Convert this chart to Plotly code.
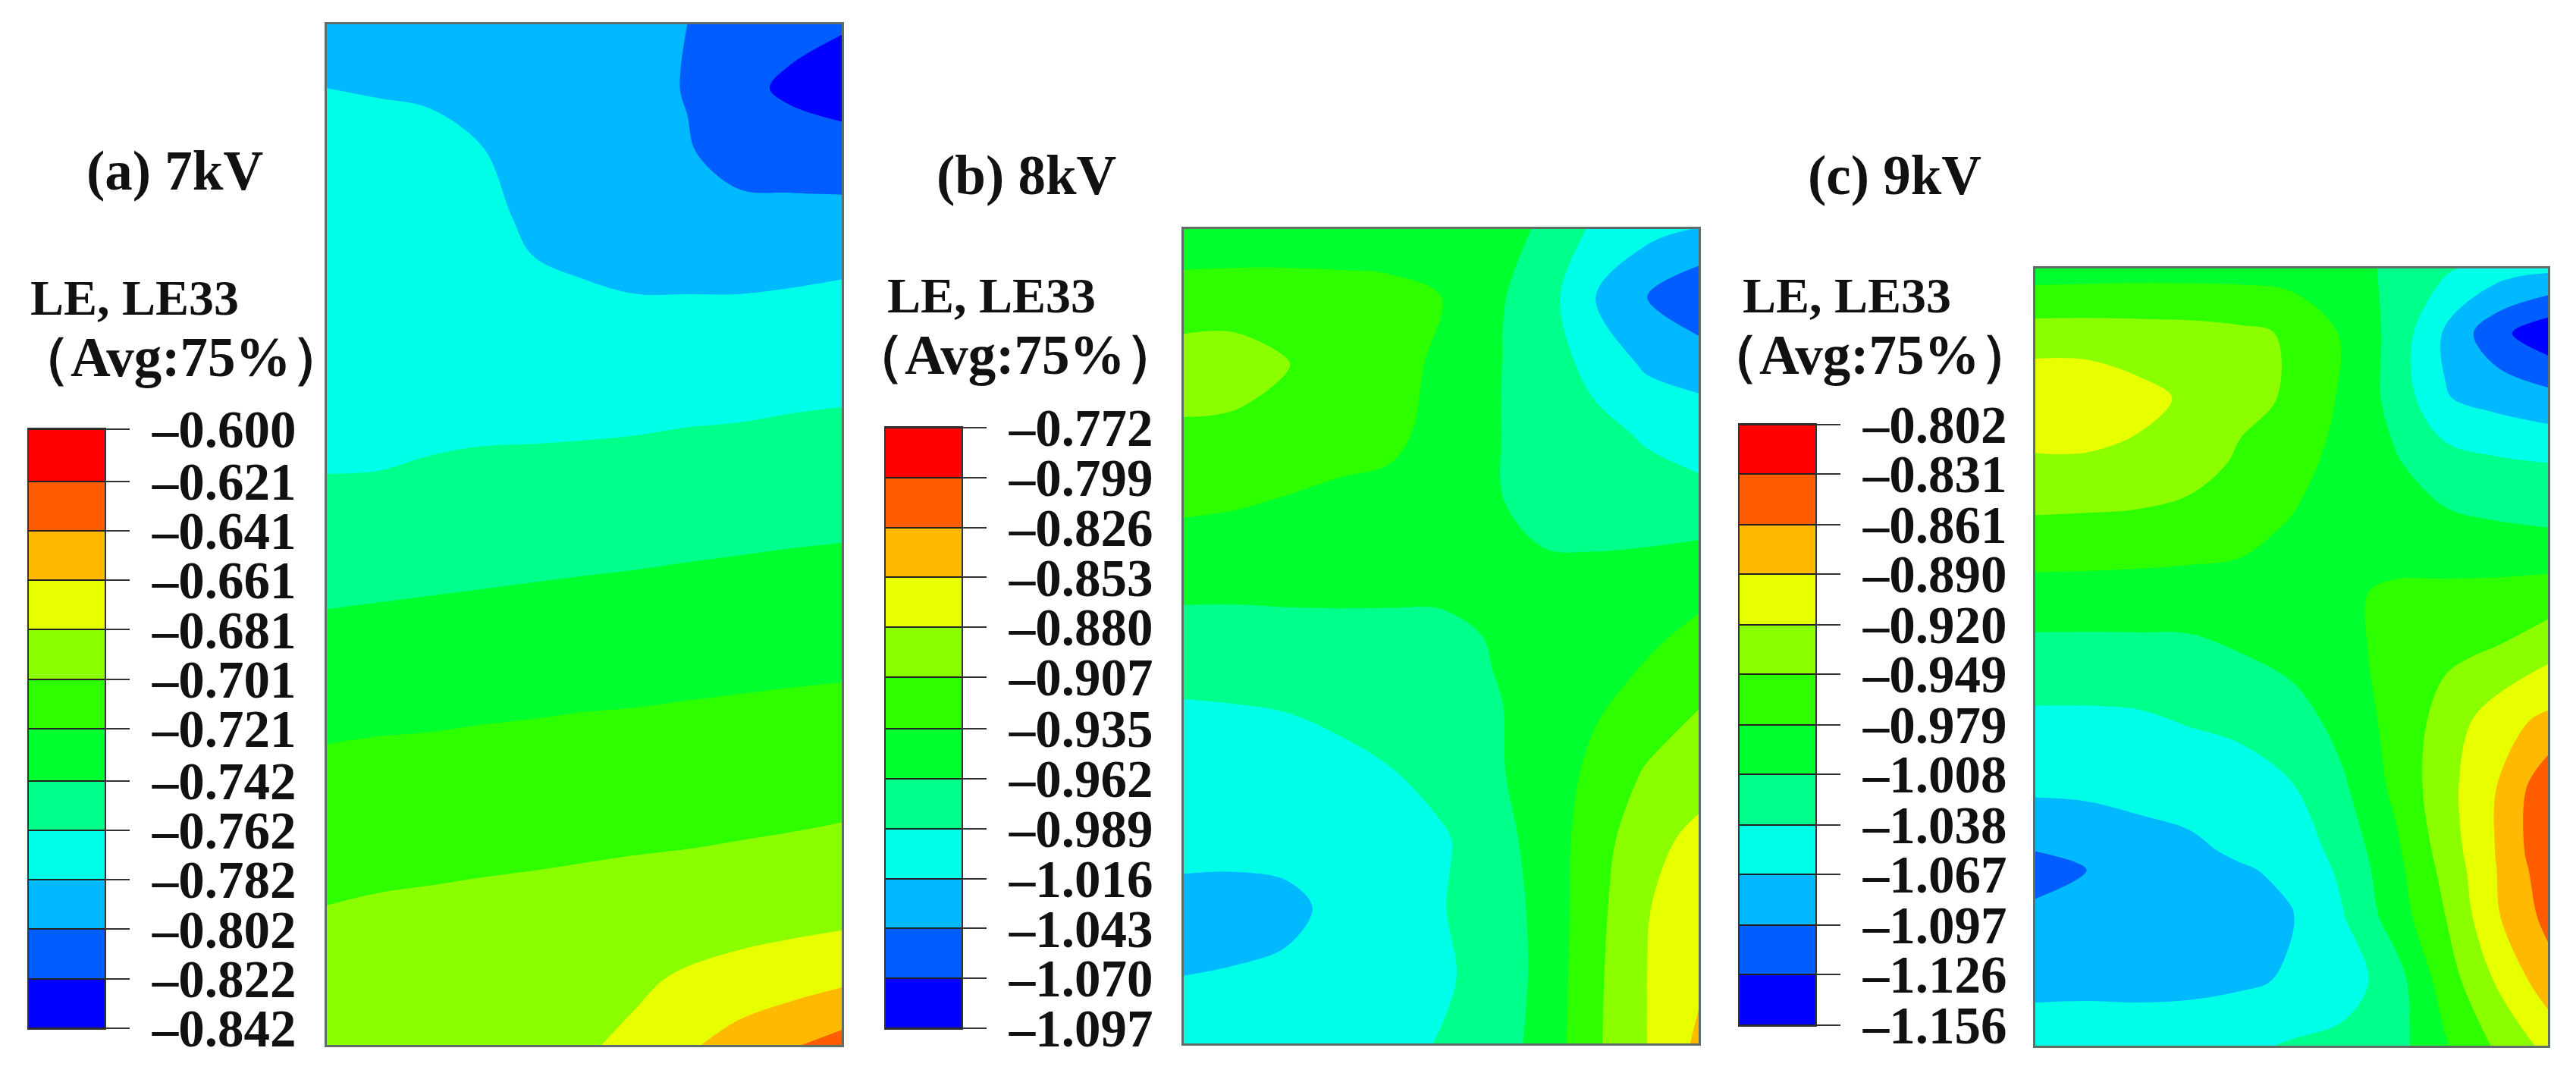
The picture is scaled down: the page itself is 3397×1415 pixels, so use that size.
import numpy as np
import plotly.graph_objects as go

# legend ticks, top to bottom
ticks_a = [-0.600, -0.621, -0.641, -0.661, -0.681, -0.701, -0.721, -0.742, -0.762, -0.782, -0.802, -0.822, -0.842]
ticks_b = [-0.772, -0.799, -0.826, -0.853, -0.880, -0.907, -0.935, -0.962, -0.989, -1.016, -1.043, -1.070, -1.097]
ticks_c = [-0.802, -0.831, -0.861, -0.890, -0.920, -0.949, -0.979, -1.008, -1.038, -1.067, -1.097, -1.126, -1.156]
labels_a = ["–0.600", "–0.621", "–0.641", "–0.661", "–0.681", "–0.701", "–0.721", "–0.742", "–0.762", "–0.782", "–0.802", "–0.822", "–0.842"]
labels_b = ["–0.772", "–0.799", "–0.826", "–0.853", "–0.880", "–0.907", "–0.935", "–0.962", "–0.989", "–1.016", "–1.043", "–1.070", "–1.097"]
labels_c = ["–0.802", "–0.831", "–0.861", "–0.890", "–0.920", "–0.949", "–0.979", "–1.008", "–1.038", "–1.067", "–1.097", "–1.126", "–1.156"]

# Abaqus rainbow, blue (lowest band) to red
band_colors = ["#0000FF", "#005DFF", "#00B9FF", "#00FFE8", "#00FF8B", "#00FF2E",
               "#2EFF00", "#8BFF00", "#E8FF00", "#FFB900", "#FF5D00", "#FF0000"]

titles = ["(a) 7kV", "(b) 8kV", "(c) 9kV"]
legend_title = "LE, LE33"
legend_sub = "（Avg:75%）"

x_a = [0.0, 0.1, 0.2, 0.3, 0.4, 0.5, 0.6, 0.7, 0.8, 0.9, 1.0]
y_a = [k / 16 for k in range(17)]
columns_a = [
    [2.7, 3.0, 3.17, 3.33, 3.5, 3.66, 3.82, 3.98, 4.42, 4.92, 5.4, 5.88, 6.3, 6.7, 7.07, 7.35, 7.6],
    [2.65, 2.97, 3.16, 3.33, 3.49, 3.66, 3.83, 4.0, 4.47, 4.97, 5.45, 5.93, 6.36, 6.76, 7.15, 7.4, 7.65],
    [2.6, 2.93, 3.15, 3.32, 3.5, 3.67, 3.84, 4.05, 4.53, 5.02, 5.5, 5.96, 6.38, 6.8, 7.2, 7.45, 7.7],
    [2.5, 2.7, 3.04, 3.24, 3.44, 3.64, 3.84, 4.1, 4.58, 5.07, 5.54, 6.01, 6.43, 6.85, 7.25, 7.5, 7.75],
    [2.4, 2.5, 2.6, 2.83, 3.1, 3.44, 3.78, 4.16, 4.64, 5.12, 5.59, 6.05, 6.47, 6.9, 7.27, 7.55, 7.85],
    [2.3, 2.4, 2.55, 2.8, 3.0, 3.39, 3.78, 4.2, 4.69, 5.17, 5.64, 6.1, 6.52, 6.95, 7.3, 7.6, 7.9],
    [2.15, 2.3, 2.45, 2.7, 2.9, 3.34, 3.79, 4.26, 4.74, 5.21, 5.68, 6.13, 6.56, 6.99, 7.4, 7.85, 8.2],
    [2.0, 1.95, 2.07, 2.55, 2.9, 3.33, 3.85, 4.32, 4.8, 5.26, 5.73, 6.18, 6.6, 7.03, 7.5, 8.15, 8.85],
    [1.6, 1.3, 1.65, 2.25, 2.88, 3.4, 3.88, 4.37, 4.85, 5.31, 5.78, 6.22, 6.65, 7.09, 7.6, 8.38, 9.4],
    [1.35, 0.8, 1.55, 2.25, 2.93, 3.45, 3.95, 4.43, 4.9, 5.36, 5.82, 6.27, 6.7, 7.15, 7.7, 8.58, 9.9],
    [1.1, 0.5, 1.45, 2.27, 3.0, 3.5, 4.0, 4.48, 4.94, 5.4, 5.86, 6.3, 6.75, 7.24, 7.78, 8.85, 10.35],
]
rows_a = np.array(columns_a).T

x_b = x_a
y_b = [k / 12 for k in range(13)]
rows_b = [
    [5.4, 5.4, 5.4, 5.4, 5.4, 5.4, 5.3, 4.9, 3.8, 3.3, 2.95],
    [6.4, 6.45, 6.45, 6.4, 6.3, 6.0, 5.2, 4.45, 3.0, 2.0, 1.2],
    [7.5, 7.5, 7.05, 6.6, 6.3, 5.85, 5.1, 4.55, 3.65, 2.85, 2.6],
    [6.85, 6.75, 6.6, 6.4, 6.3, 5.6, 5.1, 4.5, 4.3, 3.85, 3.55],
    [6.2, 6.1, 5.95, 5.8, 5.65, 5.5, 5.1, 4.65, 4.55, 4.5, 4.3],
    [5.41, 5.4, 5.4, 5.4, 5.35, 5.3, 5.3, 5.15, 5.15, 5.23, 5.5],
    [4.65, 4.65, 4.7, 4.72, 4.75, 4.8, 5.05, 5.3, 5.6, 5.8, 6.25],
    [3.95, 4.0, 4.05, 4.25, 4.45, 4.65, 4.95, 5.2, 5.85, 6.4, 6.95],
    [3.6, 3.6, 3.65, 3.7, 3.95, 4.4, 4.9, 5.3, 6.3, 7.1, 7.6],
    [3.3, 3.25, 3.3, 3.45, 3.6, 3.85, 4.6, 5.4, 6.55, 7.7, 8.25],
    [2.7, 2.72, 2.8, 3.2, 3.5, 3.95, 4.45, 5.3, 6.7, 7.95, 8.6],
    [3.0, 3.05, 3.15, 3.35, 3.55, 3.85, 4.35, 5.3, 6.8, 8.0, 8.8],
    [3.3, 3.3, 3.4, 3.5, 3.75, 4.05, 4.5, 5.35, 6.85, 8.0, 9.2],
]

x_c = x_a
y_c = [0.0, 0.0833, 0.1667, 0.25, 0.3333, 0.4167, 0.5, 0.5833, 0.6667, 0.75, 0.774, 0.8333, 0.9167, 1.0]
rows_c = [
    [5.5, 5.55, 5.6, 5.6, 5.6, 5.5, 5.3, 4.85, 4.15, 3.5, 3.2],
    [7.45, 7.45, 7.4, 7.35, 7.2, 6.9, 5.9, 4.7, 2.85, 1.3, 0.3],
    [8.85, 8.8, 8.3, 7.85, 7.25, 6.9, 5.85, 4.7, 3.05, 2.65, 2.33],
    [7.85, 7.85, 7.75, 7.45, 6.85, 6.45, 5.6, 5.1, 4.45, 4.15, 4.0],
    [6.8, 6.75, 6.7, 6.55, 6.35, 5.9, 5.55, 5.4, 5.25, 5.1, 5.0],
    [5.64, 5.63, 5.6, 5.6, 5.6, 5.65, 5.85, 6.15, 6.2, 6.27, 6.4],
    [4.6, 4.6, 4.63, 4.66, 4.95, 5.3, 5.75, 6.25, 6.85, 7.15, 7.85],
    [3.8, 3.8, 3.85, 4.05, 4.2, 4.5, 5.35, 6.3, 7.4, 8.6, 9.25],
    [3.2, 3.25, 3.3, 3.4, 3.6, 3.95, 4.85, 6.2, 7.65, 9.0, 10.7],
    [2.0, 2.15, 2.6, 2.8, 3.15, 3.4, 4.35, 5.75, 7.45, 9.05, 10.8],
    [1.5, 2.0, 2.5, 2.7, 2.9, 3.2, 4.2, 5.65, 7.3, 9.0, 10.6],
    [2.3, 2.3, 2.35, 2.4, 2.6, 2.95, 3.95, 5.45, 7.0, 8.9, 10.3],
    [2.8, 2.8, 2.75, 2.75, 2.85, 3.1, 3.5, 4.5, 6.5, 8.1, 9.55],
    [3.4, 3.45, 3.5, 3.6, 3.8, 4.1, 4.3, 4.6, 5.9, 7.15, 8.3],
]

W, H = 3397, 1415
SERIF = "Liberation Serif"
TEXT = "#111111"

# pixel boxes of each panel: (field x0, x1, y0, y1), (legend x0, x1, y0, y1)
fields = [(431, 1110, 32, 1378), (1561, 2240, 302, 1376), (2684, 3360, 354, 1379)]
legends = [(38, 138, 566, 1356), (1168, 1268, 564, 1356), (2294, 2394, 560, 1352)]
title_pos = [(230, 226), (1353, 232), (2498, 232)]
head_pos = [(38, 392), (1168, 390), (2296, 390)]
sub_pos = [(18, 471), (1118, 469), (2245, 469)]

panels = [
    (ticks_a, labels_a, x_a, y_a, rows_a),
    (ticks_b, labels_b, x_b, y_b, rows_b),
    (ticks_c, labels_c, x_c, y_c, rows_c),
]

colorscale = [[i / 11, c] for i, c in enumerate(band_colors)]
fig = go.Figure()
layout_axes = {}
notes = []


def dom_x(a, b):
    return [a / W, b / W]


def dom_y(a, b):
    return [1 - b / H, 1 - a / H]


for i, (ticks, labels, xs, ys, rows) in enumerate(panels):
    low, high = ticks[-1], ticks[0]
    size = (high - low) / 12
    # legend position to strain, the legend bands are evenly spaced
    z = low + np.array(rows) * size

    n_field = 2 * i + 1
    n_leg = 2 * i + 2
    fig.add_trace(go.Contour(
        x=xs, y=ys, z=z,
        xaxis=f"x{n_field}", yaxis=f"y{n_field}",
        autocontour=False,
        contours=dict(start=low + size, end=high - size, size=size, coloring="fill", showlines=False),
        line=dict(width=0),
        colorscale=colorscale,
        showscale=False,
        hoverinfo="skip",
    ))
    fig.add_trace(go.Heatmap(
        x=[0, 1], y=ticks[::-1], z=[[k] for k in range(12)],
        xaxis=f"x{n_leg}", yaxis=f"y{n_leg}",
        zmin=0, zmax=11,
        colorscale=colorscale,
        showscale=False,
        ygap=2,
        hoverinfo="skip",
    ))

    fx0, fx1, fy0, fy1 = fields[i]
    lx0, lx1, ly0, ly1 = legends[i]
    frame = dict(showline=True, linecolor="#5f6f68", linewidth=3, mirror=True, automargin=False,
                 showgrid=False, zeroline=False, ticks="", showticklabels=False)
    layout_axes[f"xaxis{n_field}"] = dict(frame, domain=dom_x(fx0, fx1), range=[0, 1], anchor=f"y{n_field}")
    layout_axes[f"yaxis{n_field}"] = dict(frame, domain=dom_y(fy0, fy1), range=[1, 0], anchor=f"x{n_field}")
    layout_axes[f"xaxis{n_leg}"] = dict(domain=dom_x(lx0, lx1), range=[0, 1], anchor=f"y{n_leg}", automargin=False,
                                        showline=True, linecolor="#333333", linewidth=2, mirror=True,
                                        showgrid=False, zeroline=False, ticks="", showticklabels=False)
    layout_axes[f"yaxis{n_leg}"] = dict(domain=dom_y(ly0, ly1), range=[low, high], anchor=f"x{n_leg}", automargin=False,
                                        side="right", tickmode="array", tickvals=ticks, ticktext=labels,
                                        ticks="outside", ticklen=31, tickwidth=2, tickcolor="#333333",
                                        ticklabelstandoff=16,
                                        tickfont=dict(family=SERIF, size=69, color=TEXT, weight="bold"),
                                        showline=True, linecolor="#333333", linewidth=2, mirror=True,
                                        showgrid=False, zeroline=False)

    notes.append(dict(text=titles[i], x=title_pos[i][0] / W, y=1 - title_pos[i][1] / H, xanchor="center",
                      font=dict(size=73)))
    notes.append(dict(text=legend_title, x=head_pos[i][0] / W, y=1 - head_pos[i][1] / H, xanchor="left",
                      font=dict(size=66)))
    notes.append(dict(text=legend_sub, x=sub_pos[i][0] / W, y=1 - sub_pos[i][1] / H, xanchor="left",
                      font=dict(size=73)))

for n in notes:
    n.update(xref="paper", yref="paper", yanchor="middle", showarrow=False)
    n["font"].update(family=SERIF, color=TEXT, weight="bold")

fig.update_layout(
    width=W, height=H,
    margin=dict(l=0, r=0, t=0, b=0),
    paper_bgcolor="white",
    plot_bgcolor="#222222",
    showlegend=False,
    annotations=notes,
    **layout_axes,
)

fig.write_html("out.html", post_script="document.body.style.margin='0';", config={"displayModeBar": False})
